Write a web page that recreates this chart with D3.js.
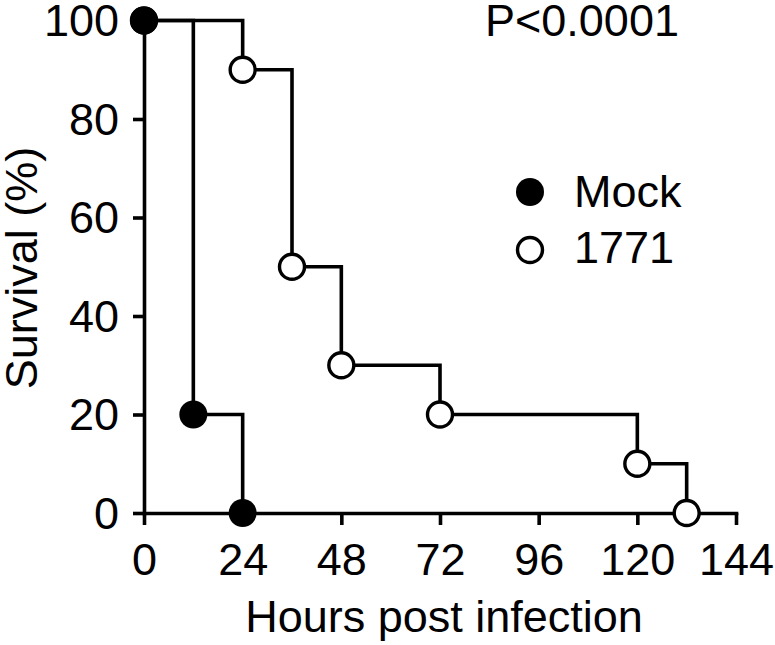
<!DOCTYPE html>
<html>
<head>
<meta charset="utf-8">
<script src="https://cdn.jsdelivr.net/npm/d3@7"></script>
<style>
  body { margin: 0; background: #fff; }
  svg text { font-family: "Liberation Sans", Arial, sans-serif; fill: #000; }
</style>
</head>
<body>
<svg id="chart" width="775" height="645"></svg>
<script>
// Survival data (hours, % surviving)
var mockHours = [0, 12, 24];
var mockSurvival = [100, 20, 0];
var strainHours = [0, 24, 36, 48, 72, 120, 132];
var strainSurvival = [100, 90, 50, 30, 20, 10, 0];
var seriesNames = ['Mock', '1771'];
var xTicks = [0, 24, 48, 72, 96, 120, 144];
var yTicks = [0, 20, 40, 60, 80, 100];
var pValue = 'P<0.0001';

var svg = d3.select('#chart');
var fontSize = 45;

// scales
var x = d3.scaleLinear().domain([0, 144]).range([144, 736]);
var y = d3.scaleLinear().domain([0, 100]).range([513, 20.5]);

var toPoints = function (hours, surv) {
  return hours.map(function (h, i) { return { x: h, y: surv[i] }; });
};
var mock = toPoints(mockHours, mockSurvival);
var strain = toPoints(strainHours, strainSurvival);

var line = d3.line()
  .x(function (d) { return x(d.x); })
  .y(function (d) { return y(d.y); })
  .curve(d3.curveStepAfter);

// axes
var xAxis = svg.append('g')
  .attr('transform', 'translate(0,' + y(0) + ')')
  .call(d3.axisBottom(x).tickValues(xTicks).tickSize(12).tickSizeOuter(0).tickPadding(18));
var yAxis = svg.append('g')
  .attr('transform', 'translate(' + x(0) + ',0)')
  .call(d3.axisLeft(y).tickValues(yTicks).tickSize(11).tickSizeOuter(0).tickPadding(14));

[xAxis, yAxis].forEach(function (ax) {
  ax.select('.domain').attr('stroke', '#000').attr('stroke-width', 3.6).attr('stroke-linecap', 'square');
  ax.selectAll('.tick line').attr('stroke', '#000').attr('stroke-width', 3.6);
  ax.selectAll('.tick text').attr('font-size', fontSize).attr('font-family', null).attr('fill', '#000');
});
yAxis.selectAll('.tick text').attr('dy', '0.34em');

// step lines: 1771 first so Mock sits on top
svg.append('path').datum(strain)
  .attr('d', line).attr('fill', 'none').attr('stroke', '#000').attr('stroke-width', 3.6);
svg.append('path').datum(mock)
  .attr('d', line).attr('fill', 'none').attr('stroke', '#000').attr('stroke-width', 3.6);

// markers
svg.append('g').selectAll('circle').data(strain).enter().append('circle')
  .attr('cx', function (d) { return x(d.x); })
  .attr('cy', function (d) { return y(d.y); })
  .attr('r', 12.5).attr('fill', '#fff').attr('stroke', '#000').attr('stroke-width', 3.4);
svg.append('g').selectAll('circle').data(mock).enter().append('circle')
  .attr('cx', function (d) { return x(d.x); })
  .attr('cy', function (d) { return y(d.y); })
  .attr('r', 14).attr('fill', '#000');

// axis titles
svg.append('text')
  .attr('x', 444).attr('y', 632)
  .attr('text-anchor', 'middle').attr('font-size', fontSize)
  .text('Hours post infection');
svg.append('text')
  .attr('transform', 'translate(37,268) rotate(-90)')
  .attr('text-anchor', 'middle').attr('font-size', fontSize)
  .text('Survival (%)');

// p value
svg.append('text')
  .attr('x', 485).attr('y', 36)
  .attr('font-size', fontSize)
  .text(pValue);

// legend
var legend = svg.append('g').attr('transform', 'translate(530,192)');
legend.append('circle').attr('cx', 0).attr('cy', 0).attr('r', 14).attr('fill', '#000');
legend.append('circle').attr('cx', 0).attr('cy', 58).attr('r', 12.5)
  .attr('fill', '#fff').attr('stroke', '#000').attr('stroke-width', 3.4);
legend.selectAll('text.lab').data(seriesNames).enter().append('text')
  .attr('class', 'lab')
  .attr('x', 44).attr('y', function (d, i) { return 15 + i * 56; })
  .attr('font-size', fontSize)
  .text(function (d) { return d; });
</script>
</body>
</html>
